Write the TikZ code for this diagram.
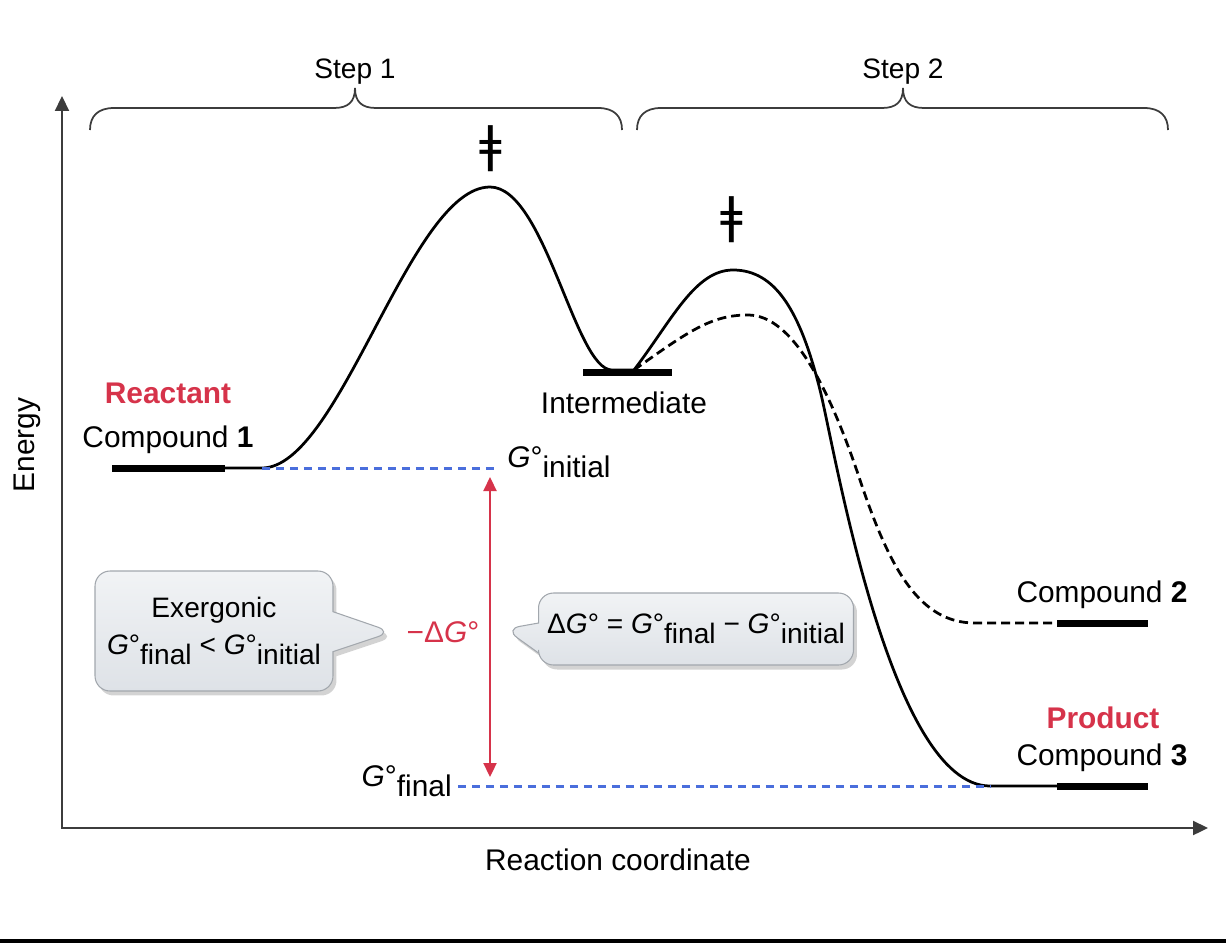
\documentclass[tikz,border=0pt]{standalone}
\usepackage{fontspec}
\setmainfont{Liberation Sans}
\newfontfamily\markfont{DejaVu Sans}
\usetikzlibrary{arrows.meta,shapes.callouts,shadows,positioning}

\definecolor{axisgray}{HTML}{3C3C3C}
\definecolor{labelred}{HTML}{D6334A}
\definecolor{levelblue}{HTML}{4A6EDC}
\definecolor{boxtop}{HTML}{F1F3F5}
\definecolor{boxbot}{HTML}{DEE2E7}
\definecolor{boxedge}{HTML}{A2A7AD}

\newcommand{\gsub}[1]{\raisebox{-0.36em}{#1}}
\newcommand{\gdeg}{\textit{G}°}

\begin{document}
\begin{tikzpicture}[
    x=0.02cm, y=-0.02cm,
    lbl/.style={font=\fontsize{17}{21}\selectfont, inner sep=0pt},
    steplbl/.style={font=\fontsize{16}{19}\selectfont, inner sep=0pt},
    redlbl/.style={inner sep=0pt, text=labelred, font=\fontsize{17}{21}\selectfont\bfseries},
    tsmark/.style={inner sep=0pt, font=\markfont\fontsize{28}{28}\selectfont},
    axis/.style={draw=axisgray, line width=0.045cm, {Triangle[length=0.3cm,width=0.28cm]}-{Triangle[length=0.3cm,width=0.28cm]}},
    brace/.style={draw=axisgray, line width=0.035cm},
    level/.style={line width=0.14cm},
    profile/.style={line width=0.055cm},
    guide/.style={draw=levelblue, line width=0.06cm, dash pattern=on 0.16cm off 0.12cm},
    gap/.style={draw=labelred, line width=0.045cm, {Triangle[length=0.28cm,width=0.26cm]}-{Triangle[length=0.28cm,width=0.26cm]}},
    bubble/.style={rectangle callout, rounded corners=0.3cm, draw=boxedge, line width=0.6pt,
        top color=boxtop, bottom color=boxbot, inner sep=0pt, align=center,
        drop shadow={opacity=0.35, shadow xshift=0.07cm, shadow yshift=-0.09cm},
        font=\fontsize{16}{20}\selectfont}
]
\useasboundingbox (0,0) rectangle (1226,950);

% axes
\coordinate (ytop) at (62,96);
\coordinate (origin) at (62,828);
\coordinate (xend) at (1208,828);
\draw[axis] (ytop) -- (origin) -- (xend);
\node[lbl, rotate=90, anchor=base] (energy) at (34,445) {Energy};
\node[lbl, anchor=base] (rxn) at (618,870) {Reaction coordinate};
\draw[line width=0.07cm] (0,941) -- (1226,941);

% step braces
\draw[brace] (90,130) .. controls (90,116) and (98,108) .. (114,108) -- (334,108)
    .. controls (348,108) and (355,102) .. (355,88)
    .. controls (355,102) and (362,108) .. (376,108) -- (598,108)
    .. controls (614,108) and (622,116) .. (622,130);
\draw[brace] (637,130) .. controls (637,116) and (645,108) .. (661,108) -- (882,108)
    .. controls (896,108) and (903,102) .. (903,88)
    .. controls (903,102) and (910,108) .. (924,108) -- (1144,108)
    .. controls (1160,108) and (1168,116) .. (1168,130);
\node[steplbl, anchor=base] (step1) at (355,78) {Step 1};
\node[steplbl, anchor=base] (step2) at (903,78) {Step 2};

% energy levels
\coordinate (c1a) at (112,468);
\coordinate (c1b) at (225,468);
\coordinate (r1c) at (262,468);
\coordinate (ts1) at (490,187);
\coordinate (ima) at (583,372);
\coordinate (imb) at (672,372);
\coordinate (imin) at (612,370);
\coordinate (imax) at (634,370);
\coordinate (ts2) at (733,270);
\coordinate (ts2b) at (748,315);
\coordinate (p2) at (975,623);
\coordinate (c2a) at (1057,623);
\coordinate (c2b) at (1148,623);
\coordinate (p3) at (990,786);
\coordinate (c3a) at (1057,786);
\coordinate (c3b) at (1148,786);

\draw[level] (c1a) -- (c1b);
\draw[level] (ima) -- (imb);
\draw[level] (c2a) -- (c2b);
\draw[level] (c3a) -- (c3b);

\draw[profile] (c1b) -- (r1c) .. controls (340,468) and (410,187) .. (ts1)
    .. controls (545,187) and (575,370) .. (imin) -- (imax)
    .. controls (672,320) and (695,270) .. (ts2)
    .. controls (775,270) and (800,310) .. (820,390)
    .. controls (835,450) and (890,786) .. (p3) -- (c3a);
\draw[profile, dash pattern=on 0.18cm off 0.1cm] (imax) .. controls (690,330) and (712,315) .. (ts2b)
    .. controls (793,315) and (830,390) .. (860,480)
    .. controls (890,570) and (920,623) .. (p2) -- (c2a);

\node[tsmark] (tsmark1) at (491,149) {ǂ};
\node[tsmark] (tsmark2) at (732,220) {ǂ};

% labels
\node[redlbl, anchor=base] (reactant) at (168,403) {Reactant};
\node[lbl, anchor=base] (cmpd1) at (168,447) {Compound \textbf{1}};
\node[lbl, anchor=base] (inter) at (624,413) {Intermediate};
\node[lbl, anchor=base] (cmpd2) at (1102,602) {Compound \textbf{2}};
\node[redlbl, anchor=base] (product) at (1103,728) {Product};
\node[lbl, anchor=base] (cmpd3) at (1102,765) {Compound \textbf{3}};

% G levels
\coordinate (gi) at (497,468);
\coordinate (gf) at (458,786);
\node[lbl, anchor=base west] (ginit) at (507,467) {\gdeg\gsub{initial}};
\node[lbl, anchor=base east] (gfinal) at (452,786) {\gdeg\gsub{final}};
\draw[guide] (r1c) -- (gi);
\draw[guide] (gf) -- (p3);

% free energy change
\coordinate (dtop) at (490,477);
\coordinate (dbot) at (490,777);
\draw[gap] (dtop) -- (dbot);
\node[lbl, text=labelred] (dg) at (443,632) {−Δ\textit{G}°};

\node[bubble, minimum width=4.76cm, minimum height=2.4cm,
    callout absolute pointer={(392,632)}, callout pointer width=0.8cm] (exergonic) at (214,631)
    {Exergonic\\[1pt]\gdeg\gsub{final} < \gdeg\gsub{initial}};
\node[bubble, minimum width=6.3cm, minimum height=1.44cm,
    callout absolute pointer={(505,629)}, callout pointer width=0.6cm] (dgdef) at (696,629)
    {Δ\gdeg{} = \gdeg\gsub{final} − \gdeg\gsub{initial}};

\end{tikzpicture}
\end{document}
